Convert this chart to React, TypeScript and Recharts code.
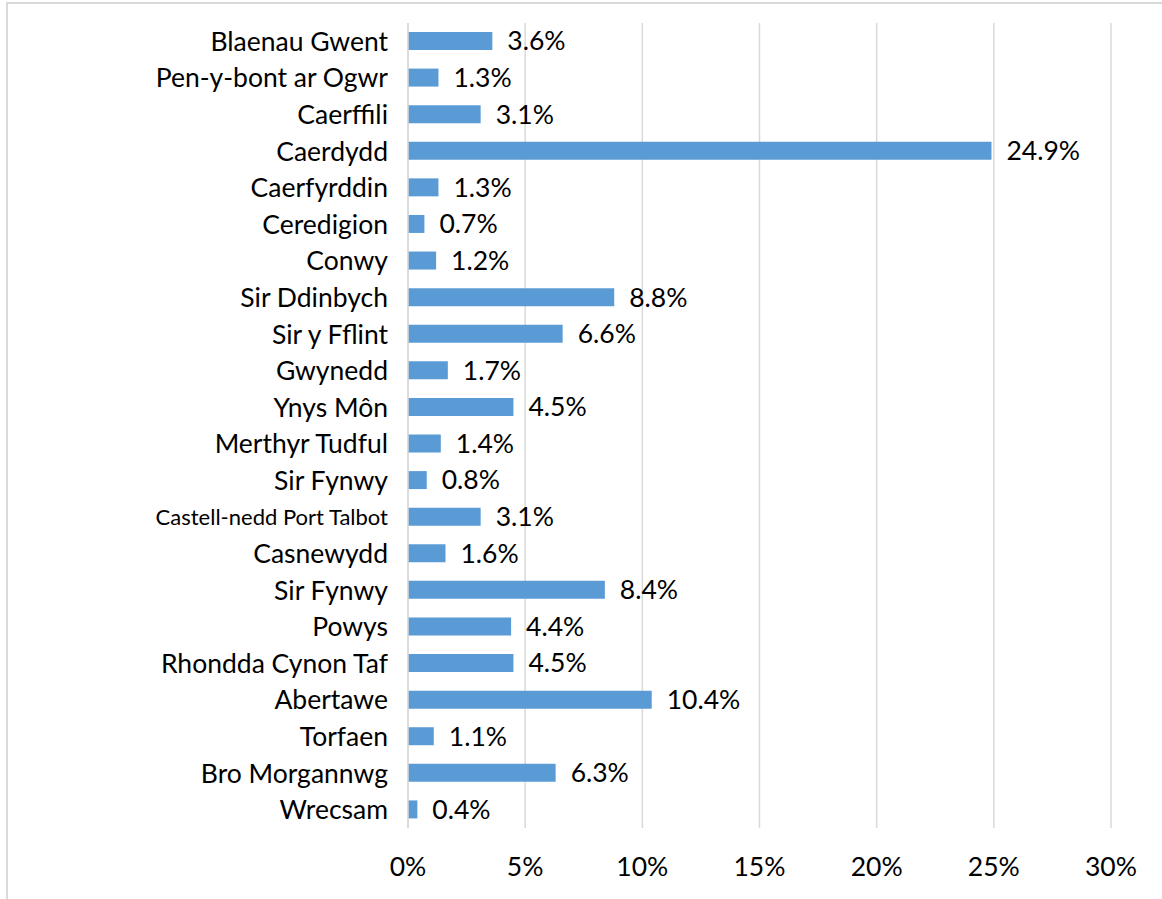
import React from "react";
import { BarChart, Bar, XAxis, YAxis, CartesianGrid, LabelList } from "recharts";

const categories = [
  "Blaenau Gwent",
  "Pen-y-bont ar Ogwr",
  "Caerffili",
  "Caerdydd",
  "Caerfyrddin",
  "Ceredigion",
  "Conwy",
  "Sir Ddinbych",
  "Sir y Fflint",
  "Gwynedd",
  "Ynys Môn",
  "Merthyr Tudful",
  "Sir Fynwy",
  "Castell-nedd Port Talbot",
  "Casnewydd",
  "Sir Fynwy",
  "Powys",
  "Rhondda Cynon Taf",
  "Abertawe",
  "Torfaen",
  "Bro Morgannwg",
  "Wrecsam",
];

const values = [3.6, 1.3, 3.1, 24.9, 1.3, 0.7, 1.2, 8.8, 6.6, 1.7, 4.5, 1.4, 0.8, 3.1, 1.6, 8.4, 4.4, 4.5, 10.4, 1.1, 6.3, 0.4];

const xTicks = [0, 5, 10, 15, 20, 25, 30];

const data = categories.map((name, i) => ({ key: `${i}`, name, value: values[i] }));

const FONT = "Lato, 'Open Sans', sans-serif";

const YTick = (props: any) => {
  const { x, y, payload } = props;
  const label = categories[Number(payload.value)];
  const small = label.length > 20;
  return (
    <text
      x={x}
      y={y}
      dy="0.36em"
      textAnchor="end"
      fill="#000"
      fontFamily={FONT}
      fontSize={small ? 22 : 26.5}
    >
      {label}
    </text>
  );
};

const XTick = (props: any) => {
  const { x, y, payload } = props;
  return (
    <text x={x} y={y} dy="0.36em" textAnchor="middle" fill="#000" fontFamily={FONT} fontSize={26.5}>
      {`${payload.value}%`}
    </text>
  );
};

export default function App() {
  return (
    <div style={{ position: "absolute", left: 0, top: 0, width: 1162, height: 899, background: "#fff", overflow: "hidden" }}>
      <div
        style={{
          position: "absolute",
          left: 6,
          top: 2,
          width: 1200,
          height: 950,
          borderLeft: "2px solid #d9d9d9",
          borderTop: "2px solid #d9d9d9",
          boxSizing: "border-box",
        }}
      />
      <div style={{ position: "absolute", left: 0, top: 0 }}>
        <BarChart
          width={1162}
          height={899}
          data={data}
          layout="vertical"
          margin={{ top: 23, right: 51, bottom: 21, left: 0 }}
          barCategoryGap="26%"
        >
          <CartesianGrid horizontal={false} stroke="#d9d9d9" strokeWidth={1.5} />
          <XAxis
            type="number"
            domain={[0, 30]}
            ticks={xTicks}
            axisLine={false}
            tickLine={false}
            height={50}
            tickMargin={0}
            tickSize={38}
            tick={<XTick />}
            interval={0}
          />
          <YAxis
            type="category"
            dataKey="key"
            width={408}
            axisLine={{ stroke: "#d9d9d9", strokeWidth: 1.5 }}
            tickLine={false}
            tickSize={0}
            tickMargin={20}
            tick={<YTick />}
            interval={0}
          />
          <Bar dataKey="value" fill="#5b9bd5" barSize={18} isAnimationActive={false}>
            <LabelList
              dataKey="value"
              position="right"
              offset={15}
              formatter={(v: any) => `${Number(v).toFixed(1)}%`}
              style={{ fill: "#000", fontFamily: FONT, fontSize: 26.5 }}
            />
          </Bar>
        </BarChart>
      </div>
    </div>
  );
}
